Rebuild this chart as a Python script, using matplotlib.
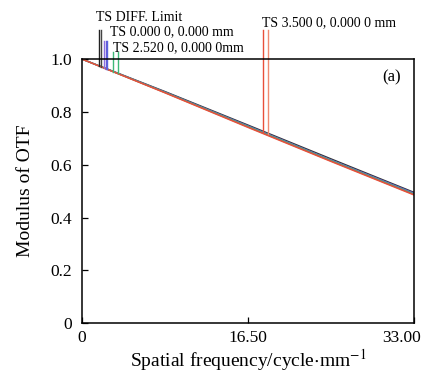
import matplotlib
matplotlib.use('Agg')
import matplotlib.pyplot as plt
import matplotlib.transforms as mtransforms

plt.rcParams['font.family'] = ['Liberation Serif', 'DejaVu Serif']
plt.rcParams['mathtext.fontset'] = 'stix'

# MTF curves (spatial frequency in cycle/mm)
freq = [0, 8.25, 16.5, 24.75, 33.0]
mtf_diff = [1.0, 0.877, 0.750, 0.622, 0.495]
mtf_field0 = [1.0, 0.875, 0.747, 0.618, 0.492]
mtf_field1 = [1.0, 0.874, 0.745, 0.616, 0.489]
mtf_field2 = [1.0, 0.873, 0.743, 0.614, 0.487]
mtf_field3 = [1.0, 0.872, 0.741, 0.612, 0.485]

# label marker lines: (x position, top of line, colour)
marker_x = [1.7, 1.9, 2.2, 2.4, 2.5, 3.1, 3.55, 18.0, 18.5]
marker_top = [1.11, 1.11, 1.068, 1.068, 1.068, 1.027, 1.027, 1.11, 1.11]
marker_col = ['#222222', '#444444', '#8a6fe0', '#6a5ad8', '#5a64e0', '#3cb878', '#3cb878',
              '#e8503a', '#f08a70']

labels = ['TS DIFF. Limit', 'TS 0.000 0, 0.000 mm', 'TS 2.520 0, 0.000 0mm', 'TS 3.500 0, 0.000 0 mm']
label_x = [1.39, 2.78, 3.08, 17.9]
label_y = [1.159, 1.102, 1.045, 1.136]

fig = plt.figure(figsize=(4.27, 3.74), dpi=100)
ax = fig.add_axes([0.192, 0.136, 0.778, 0.706])

ax.plot(freq, mtf_diff, color='#333333', lw=1.0)
ax.plot(freq, mtf_field0, color='#6a5ad8', lw=1.0)
ax.plot(freq, mtf_field1, color='#3cb878', lw=1.0)
ax.plot(freq, mtf_field2, color='#9a7060', lw=1.0)
ax.plot(freq, mtf_field3, color='#e8503a', lw=1.0)

for x, top, c in zip(marker_x, marker_top, marker_col):
    y0 = 1.0 - 0.01535 * x
    ax.plot([x, x], [y0, top], color=c, lw=1.0, clip_on=False)

for t, x, y in zip(labels, label_x, label_y):
    ax.text(x, y, t, fontsize=10, ha='left', va='center', clip_on=False)

ax.text(30.8, 0.93, '(a)', fontsize=12, ha='center', va='center')

ax.set_xlim(0, 33)
ax.set_ylim(0, 1.0)
ax.set_xticks([0, 16.5, 33])
ax.set_xticklabels(['0', '16.50', '33.00'])
ax.set_yticks([0, 0.2, 0.4, 0.6, 0.8, 1.0])
ax.set_yticklabels(['0', '0.2', '0.4', '0.6', '0.8', '1.0'])
ax.tick_params(direction='in', length=4, labelsize=12.5, width=0.9)
ax.tick_params(axis='x', pad=5)
ax.tick_params(axis='y', pad=7)
for sp in ax.spines.values():
    sp.set_linewidth(1.1)

# shift last x tick label left so it stays inside the figure
lab = ax.get_xticklabels()[-1]
lab.set_transform(lab.get_transform() + mtransforms.ScaledTranslation(-0.13, 0, fig.dpi_scale_trans))

ax.set_xlabel('Spatial frequency/cycle$\\cdot$mm$^{-1}$', fontsize=14, labelpad=1)
ax.set_ylabel('Modulus of OTF', fontsize=14, labelpad=12)

fig.savefig('out.png', dpi=100)
